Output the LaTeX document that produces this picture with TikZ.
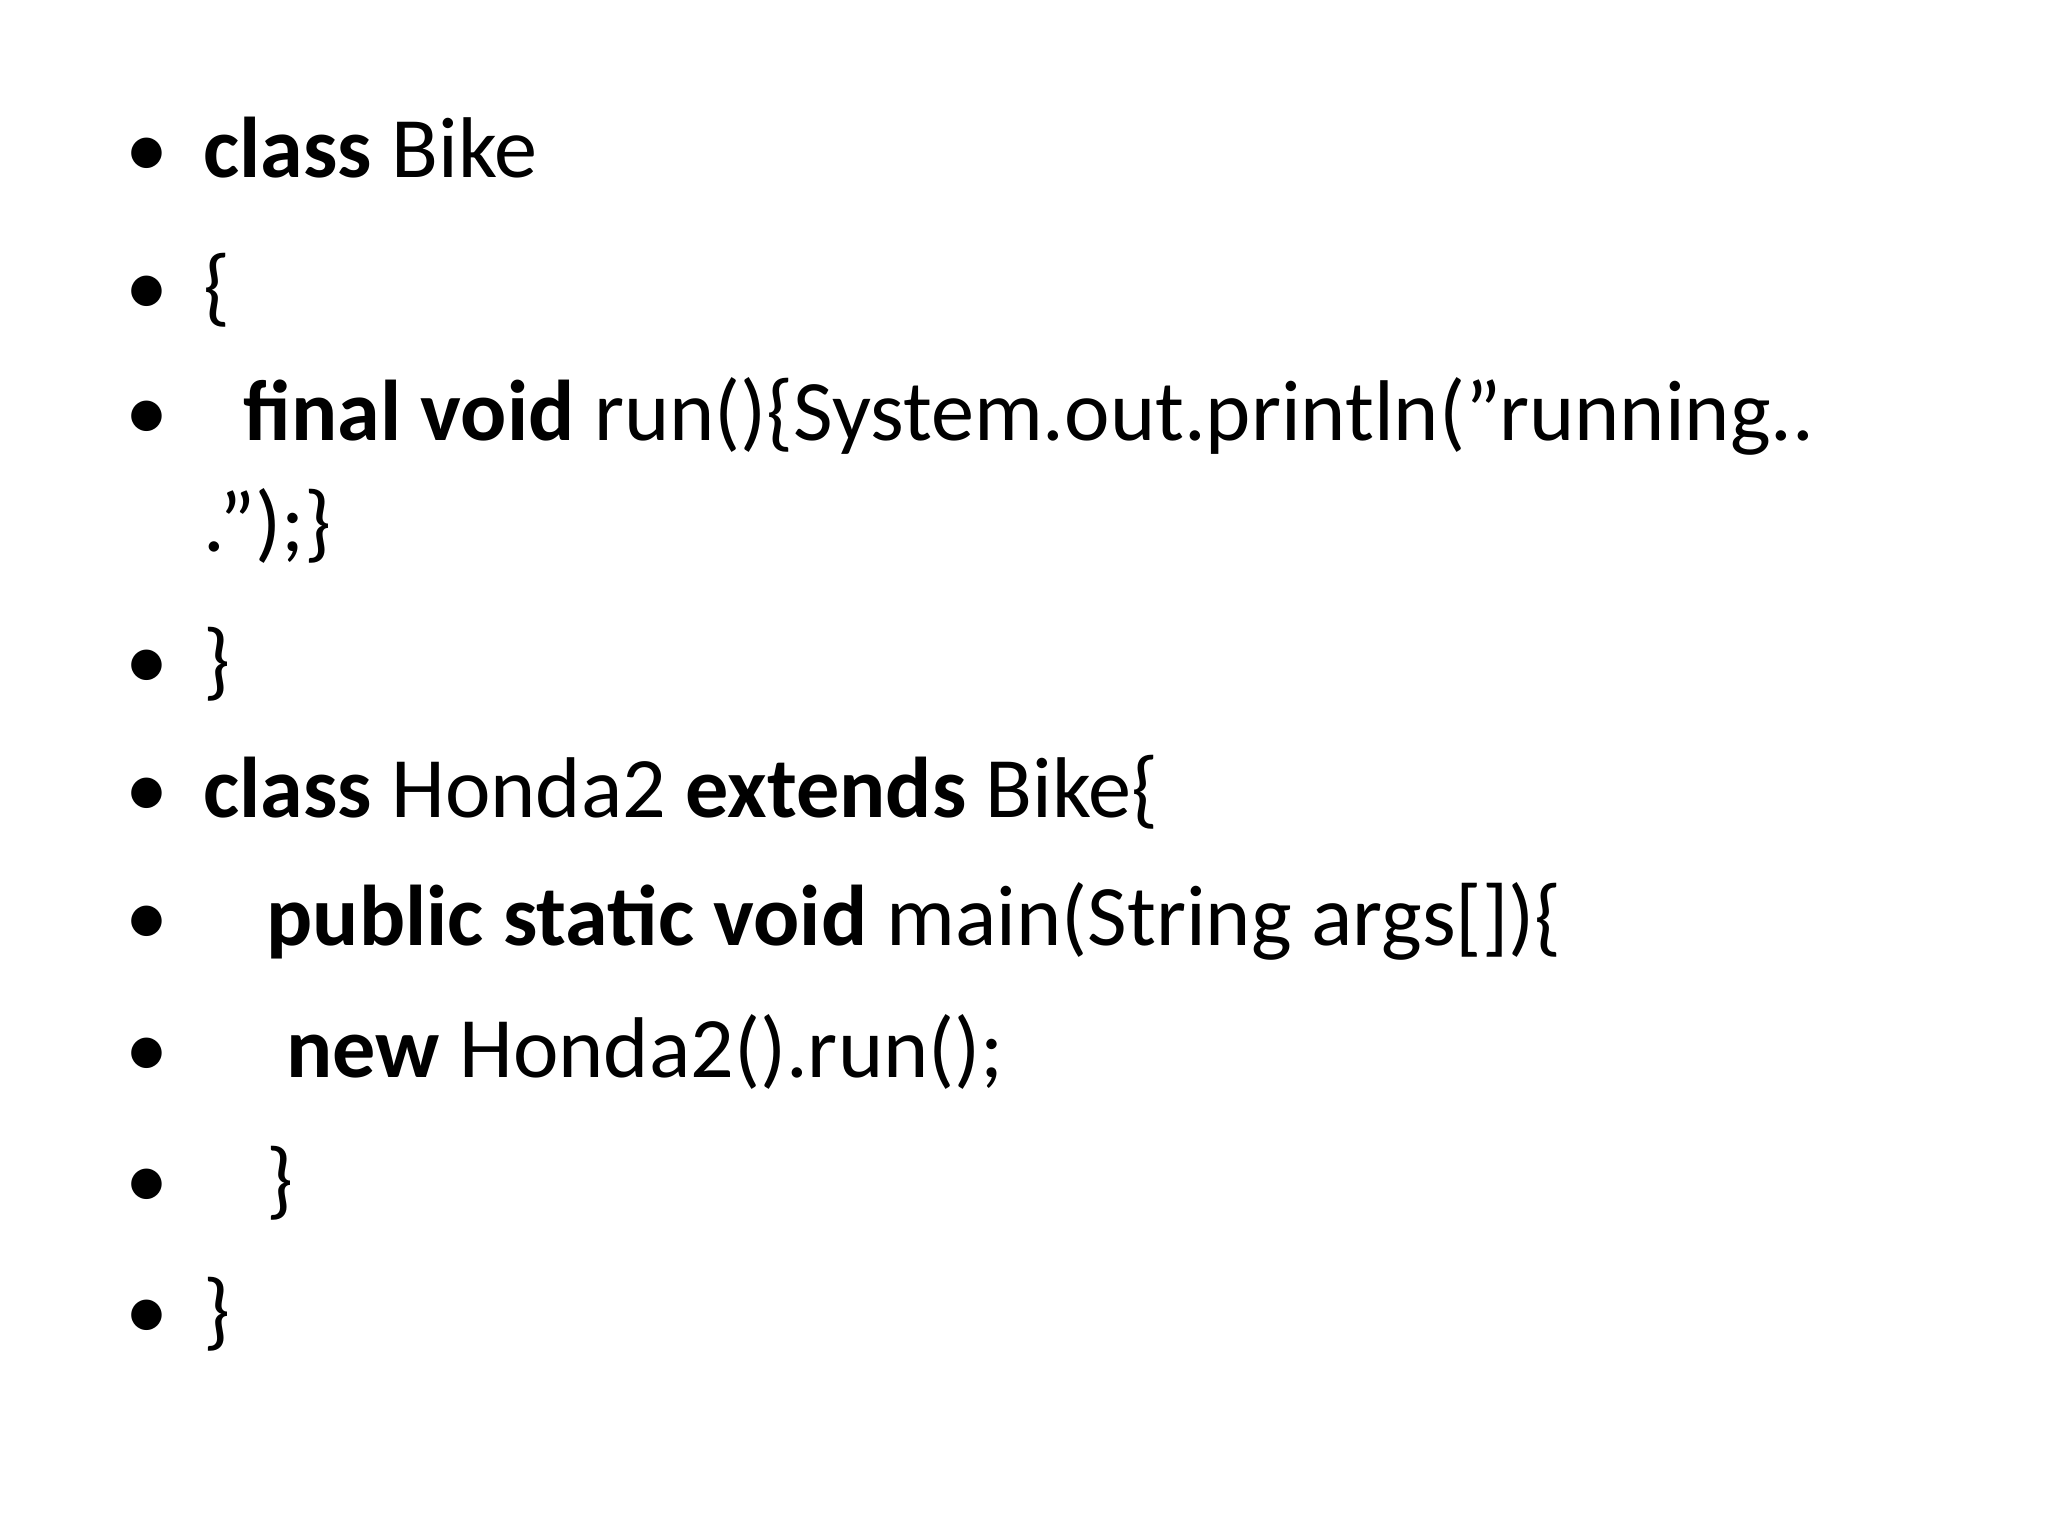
\documentclass[tikz,border=0pt]{standalone}
\usepackage{fontspec}
\setmainfont{Carlito}
\begin{document}
\begin{tikzpicture}[x=0.01cm,y=-0.01cm,
  txt/.style={anchor=base west,inner sep=0pt,font=\fontsize{24.5}{29}\selectfont},
  bul/.style={anchor=base west,inner sep=0pt,font=\fontsize{24.5}{29}\selectfont}]
\useasboundingbox (0,0) rectangle (2048,1536);
\foreach \y [count=\i] in {177,315,440,689,817,945,1077,1208,1339}
  \node[bul] (b\i) at (125,\y) {\textbullet};
\node[txt] (l1) at (203,177) {\textbf{class} Bike};
\node[txt] (l2) at (203,315) {\{};
\node[txt] (l3) at (243,440) {\textbf{final void} run()\{System.out.println("running..};
\node[txt] (l3b) at (203,551) {.");\}};
\node[txt] (l4) at (203,689) {\}};
\node[txt] (l5) at (203,817) {\textbf{class} Honda2 \textbf{extends} Bike\{};
\node[txt] (l6) at (266,945) {\textbf{public static void} main(String args[])\{};
\node[txt] (l7) at (286,1077) {\textbf{new} Honda2().run();};
\node[txt] (l8) at (266,1208) {\}};
\node[txt] (l9) at (203,1339) {\}};
\end{tikzpicture}
\end{document}
